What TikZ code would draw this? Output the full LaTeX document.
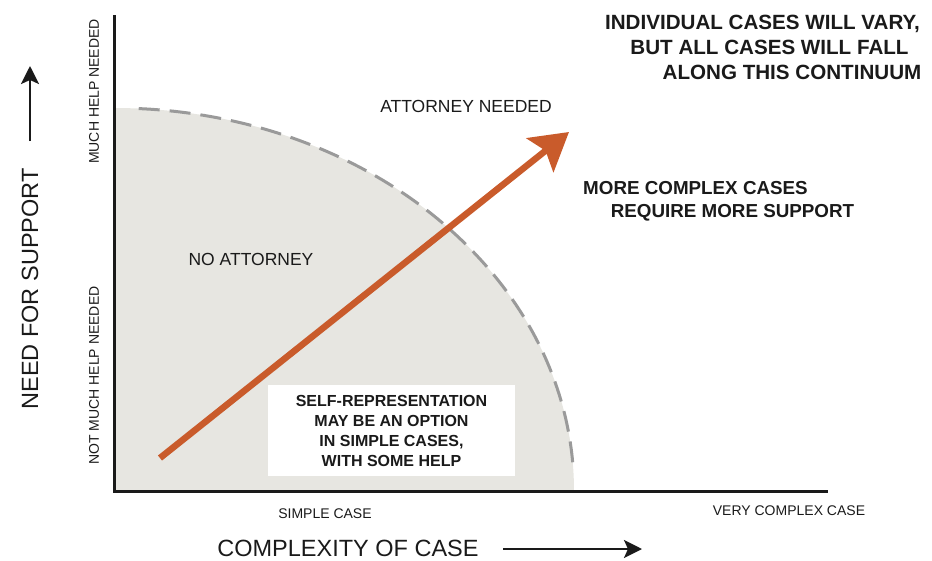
\documentclass[tikz,border=0pt]{standalone}
\usepackage{fontspec}
\setmainfont{Liberation Sans}
\usetikzlibrary{arrows.meta}
\definecolor{regionfill}{HTML}{E7E6E1}
\definecolor{dashgray}{HTML}{9A9A9A}
\definecolor{rust}{HTML}{C95B2B}
\definecolor{ink}{HTML}{1A1A1A}
\begin{document}
\begin{tikzpicture}[x=1pt,y=-1pt,
  lbl/.style={inner sep=0pt,text=ink,font=\fontsize{#1}{#1}\selectfont},
  blbl/.style={inner sep=0pt,text=ink,font=\fontsize{#1}{#1}\selectfont\bfseries},
  axis/.style={line width=3pt,draw=ink},
  guide/.style={line width=2.6pt,draw=ink,-{Stealth[length=18pt,width=18pt,inset=4pt]}},
  trend/.style={line width=6.5pt,draw=rust,-{Stealth[length=37pt,width=43pt,inset=7pt]}}]
\useasboundingbox (0,0) rectangle (932,560);

% shaded "no attorney" region
\fill[regionfill] (114,491) -- (574,491)
  arc[start angle=0,end angle=-90,x radius=460,y radius=383] -- cycle;
% dashed boundary of the region
\draw[dashgray,line width=3pt,dash pattern=on 21pt off 10pt]
  (114,491) ++(-4.3:460 and 383)
  arc[start angle=-4.3,end angle=-87.4,x radius=460,y radius=383];

% axes
\coordinate (ytop) at (114,16);
\coordinate (origin) at (114,491);
\coordinate (xend) at (826,491);
\draw[axis,line cap=rect] (ytop) -- (origin) -- (xend);

% advice box
\node[fill=white,minimum width=247pt,minimum height=91pt,inner sep=0pt,
  align=center,text=ink,font=\fontsize{16}{20}\selectfont\bfseries]
  (box) at (391.5,430.5) {SELF-REPRESENTATION\\MAY BE AN OPTION\\IN SIMPLE CASES,\\WITH SOME HELP};

% continuum arrow
\coordinate (tstart) at (160,458);
\coordinate (tend) at (569,132);
\draw[trend] (tstart) -- (tend);

% region labels
\node[lbl=17.5,anchor=base] (need) at (466,112) {ATTORNEY NEEDED};
\node[lbl=17.5,anchor=base] (noatt) at (251,265) {NO ATTORNEY};

% notes
\node[blbl=20.6,anchor=base] (n1) at (762.5,29) {INDIVIDUAL CASES WILL VARY,};
\node[blbl=20.6,anchor=base] (n2) at (769.5,54) {BUT ALL CASES WILL FALL};
\node[blbl=20.6,anchor=base] (n3) at (792,79) {ALONG THIS CONTINUUM};
\node[blbl=18.8,anchor=base] (m1) at (695.5,194.6) {MORE COMPLEX CASES};
\node[blbl=18.8,anchor=base] (m2) at (732.5,217.6) {REQUIRE MORE SUPPORT};

% vertical axis labels
\node[lbl=14,rotate=90] (much) at (94,91.5) {MUCH HELP NEEDED};
\node[lbl=14,rotate=90] (notmuch) at (94,375.5) {NOT MUCH HELP NEEDED};
\node[lbl=23.5,rotate=90] (ytitle) at (30,289) {NEED FOR SUPPORT};
\coordinate (ua0) at (30,141);
\coordinate (ua1) at (30,66);
\draw[guide] (ua0) -- (ua1);

% horizontal axis labels
\node[lbl=14,anchor=base] (simple) at (325,518) {SIMPLE CASE};
\node[lbl=14,anchor=base] (complex) at (789,515) {VERY COMPLEX CASE};
\node[lbl=23.5,anchor=base] (xtitle) at (348,556) {COMPLEXITY OF CASE};
\coordinate (ra0) at (503,549);
\coordinate (ra1) at (642,549);
\draw[guide] (ra0) -- (ra1);
\end{tikzpicture}
\end{document}
